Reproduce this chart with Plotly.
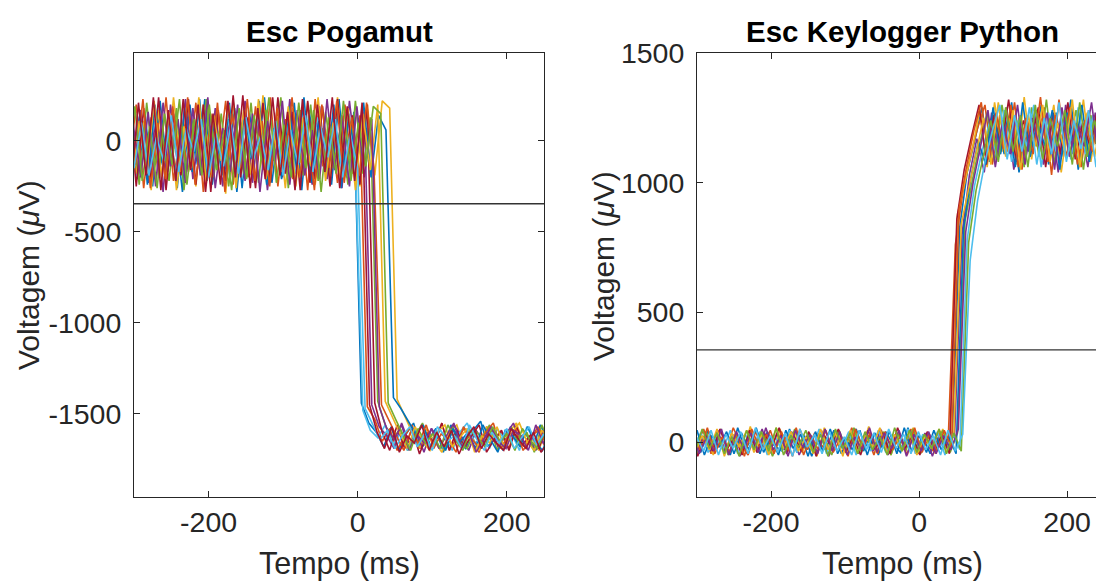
import numpy as np
import plotly.graph_objects as go

# ---------------- data ----------------
# sample grid (ms) shared by all trials; each trial has its own alignment jitter (ms)
time_grid = np.arange(-310, 251, 10)

matlab_colors = ['#0072BD', '#D95319', '#EDB120', '#7E2F8E', '#77AC30', '#4DBEEE', '#A2142F']

left_title = "Esc Pogamut"
right_title = "Esc Keylogger Python"
x_label = "Tempo (ms)"
y_label = "Voltagem (<i>μ</i>V)"
x_ticks = [-200, 0, 200]
x_tick_text = ['-200', '0', '200']
left_y_ticks = [-1500, -1000, -500, 0]
left_y_tick_text = ['-1500', '-1000', '-500', '0']
right_y_ticks = [0, 500, 1000, 1500]
right_y_tick_text = ['0', '500', '1000', '1500']
left_threshold = -345
right_threshold = 355

left_jitter = [5, 3, 3, 9, 7, 7, 3, 8, 2, 7, 9, 1, 0, 6]
right_jitter = [5, 9, 2, 8, 2, 5, 1, 0, 4, 7, 3, 7, 9]

# ---- Esc Pogamut trials (µV) ----
left_trial_01 = [190, -210, 140, -250, 220, -170, 90, -280, 200, -130,
                 230, -240, 60, -200, 180, -260, 150, -110, 240, -230,
                 110, -190, 210, -270, 170, -150, 80, -240, 230, -200,
                 160,
                 -1440, -1550, -1600, -1680, -1570, -1700, -1610, -1550, -1690, -1640,
                 -1580, -1710, -1560, -1650, -1690, -1590, -1540, -1680, -1620, -1700,
                 -1570, -1650, -1600, -1690, -1560, -1640]
left_trial_02 = [-150, 200, -260, 130, -190, 240, -220, 70, -170, 210,
                 -280, 150, -120, 220, -240, 100, -200, 190, -160, 240,
                 -250, 120, -210, 170, -270, 230, -140, 90, -230, 200,
                 -180, 140,
                 -1460, -1530, -1650, -1580, -1700, -1620, -1560, -1690, -1600, -1670,
                 -1550, -1700, -1630, -1580, -1660, -1710, -1570, -1640, -1600, -1690,
                 -1560, -1680, -1620, -1590, -1700]
left_trial_03 = [230, -180, 110, -270, 170, -220, 240, -140, 60, -250,
                 200, -200, 150, -290, 220, -160, 90, -230, 250, -190,
                 130, -260, 180, -120, 210, -240, 70, -210, 240, -170,
                 140, -250, 200, -190, 220, 180,
                 -1420, -1510, -1600, -1690, -1580, -1650, -1710, -1600, -1560, -1680,
                 -1620, -1700, -1570, -1640, -1690, -1600, -1550, -1670, -1630, -1700,
                 -1580]
left_trial_04 = [-60, 170, -230, 120, -280, 200, -150, 230, -210, 80,
                 -190, 180, -250, 140, -120, 220, -230, 160, -270, 60,
                 -200, 230, -170, 110, -240, 190, -210, 150, -260, 220,
                 -130, 170,
                 -1450, -1570, -1620, -1690, -1550, -1660, -1600, -1710, -1580, -1640,
                 -1690, -1560, -1620, -1700, -1590, -1650, -1570, -1690, -1610, -1550,
                 -1680, -1630, -1700, -1590, -1660]
left_trial_05 = [140, -240, 210, -160, 60, -220, 180, -270, 120, -130,
                 230, -200, 150, -250, 90, -180, 210, -230, 170, -110,
                 240, -260, 100, -190, 200, -220, 160, -150, 70, -240,
                 220, -180, 130,
                 -1430, -1560, -1640, -1580, -1700, -1620, -1550, -1680, -1610, -1700,
                 -1570, -1650, -1690, -1590, -1630, -1560, -1700, -1620, -1580, -1670,
                 -1600, -1710, -1560, -1650]
left_trial_06 = [-80, 60, -160, 110, -120, 30, -190, 90, -60, 150,
                 -170, 40, -110, 120, -200, 70, -90, 140, -150, 20,
                 -130, 100, -180, 60, -70, 130, -160, 50, -120, 110,
                 -140,
                 -1480, -1590, -1630, -1560, -1670, -1610, -1700, -1580, -1640, -1690,
                 -1570, -1620, -1700, -1600, -1550, -1660, -1630, -1690, -1580, -1640,
                 -1610, -1700, -1570, -1650, -1620, -1680]
left_trial_07 = [220, -250, 180, -210, 240, -270, 150, -190, 230, -240,
                 200, -280, 170, -220, 250, -200, 130, -260, 210, -230,
                 240, -180, 160, -270, 220, -210, 190, -250, 230, -190,
                 140, -240, 200,
                 -1440, -1600, -1700, -1560, -1690, -1580, -1720, -1610, -1660, -1550,
                 -1700, -1590, -1680, -1620, -1560, -1710, -1640, -1590, -1700, -1570,
                 -1660, -1610, -1690, -1580]
left_trial_08 = [-200, 150, -240, 200, -130, 90, -260, 180, -170, 230,
                 -220, 120, -190, 210, -280, 160, -100, 220, -240, 70,
                 -210, 190, -150, 240, -230, 110, -180, 200, -260, 150,
                 -120, 210, -200, 140, 60,
                 -1410, -1470, -1540, -1610, -1560, -1680, -1620, -1700, -1580, -1650,
                 -1600, -1690, -1560, -1640, -1710, -1590, -1620, -1680, -1570, -1650,
                 -1700, -1600]
left_trial_09 = [170, -130, 230, -260, 100, -210, 190, -170, 240, -240,
                 60, -190, 210, -280, 150, -140, 230, -220, 110, -250,
                 180, -160, 240, -200, 90, -270, 200, -150, 220, -230,
                 130, -190, 210, -160,
                 -1450, -1540, -1620, -1700, -1590, -1660, -1560, -1690, -1610, -1640,
                 -1710, -1570, -1630, -1680, -1600, -1550, -1690, -1620, -1580, -1700,
                 -1640, -1570, -1660]
left_trial_10 = [-240, 110, -180, 220, -200, 160, -270, 80, -150, 240,
                 -230, 140, -110, 200, -260, 170, -190, 230, -210, 50,
                 -170, 190, -250, 130, -140, 240, -220, 100, -200, 180,
                 -270, 150, -160, 200,
                 -1430, -1520, -1610, -1690, -1570, -1650, -1700, -1600, -1560, -1680,
                 -1630, -1580, -1710, -1620, -1660, -1570, -1690, -1600, -1550, -1650,
                 -1700, -1590, -1640]
left_trial_11 = [90, -200, 160, -250, 210, -140, 120, -230, 180, -190,
                 240, -260, 70, -170, 200, -220, 150, -280, 110, -130,
                 220, -240, 170, -190, 60, -210, 230, -160, 140, -250,
                 190, -200, 120,
                 -1460, -1580, -1640, -1560, -1700, -1610, -1660, -1580, -1690, -1620,
                 -1550, -1680, -1600, -1710, -1640, -1570, -1650, -1690, -1590, -1620,
                 -1700, -1560, -1660, -1610]
left_trial_12 = [-170, 190, -220, 80, -260, 150, -130, 230, -240, 120,
                 -190, 200, -160, 60, -270, 180, -210, 140, -110, 240,
                 -230, 90, -200, 210, -150, 170, -280, 130, -180, 220,
                 -220, 100, -140, 190, 150,
                 -1440, -1530, -1620, -1700, -1580, -1660, -1610, -1690, -1560, -1640,
                 -1700, -1590, -1630, -1680, -1570, -1650, -1610, -1700, -1580, -1640,
                 -1690, -1600]
left_trial_13 = [50, -150, 100, -190, 20, -110, 140, -170, 70, -60,
                 120, -200, 40, -140, 90, -180, 130, -100, 30, -160,
                 110, -190, 60, -130, 140, -170, 80, -90, 120, -200,
                 40, -150,
                 -1470, -1560, -1640, -1590, -1690, -1620, -1570, -1680, -1610, -1700,
                 -1580, -1650, -1620, -1690, -1560, -1640, -1700, -1600, -1660, -1580,
                 -1690, -1630, -1570, -1670, -1610]
left_trial_14 = [-250, 210, -190, 240, -270, 170, -220, 230, -160, 200,
                 -280, 150, -240, 220, -200, 250, -260, 180, -210, 240,
                 -190, 160, -270, 230, -230, 200, -170, 240, -260, 190,
                 -220, 210,
                 -1450, -1600, -1690, -1570, -1710, -1620, -1660, -1560, -1700, -1600,
                 -1680, -1590, -1720, -1630, -1570, -1690, -1610, -1660, -1700, -1580,
                 -1640, -1690, -1600, -1710, -1650]

# ---- Esc Keylogger Python trials (µV) ----
right_trial_01 = [30, -40, 45, -25, 10, -50, 55, -30, 20, -45,
                  40, -15, -35, 50, -40, 25, -55, 35, -20, 45,
                  -45, 15, 50, -35, 30, -50, 40, -10, -40, 55,
                  -30, 20, -45, 35, -25, 40,
                  830, 1040, 1160, 1290, 1080, 1250, 1110, 1310, 1040, 1230,
                  1130, 1300, 1070, 1270, 1100, 1320, 1050, 1240, 1150, 1290,
                  1090]
right_trial_02 = [-20, 50, -45, 30, -35, 55, -10, -50, 40, -25,
                  45, -40, 20, -55, 50, -30, 35, -15, -45, 40,
                  -35, 55, -20, 30, -50, 45, -40, 10, -30, 50,
                  -45, 25, -35, 40, -20,
                  760, 960, 1100, 1210, 1300, 1070, 1260, 1120, 1310, 1050,
                  1240, 1140, 1290, 1030, 1320, 1100, 1230, 1060, 1280, 1150,
                  1300, 1090]
right_trial_03 = [55, -30, 25, -50, 45, -20, 35, -45, 60, -35,
                  15, -50, 50, -25, 40, -40, 30, -55, 55, -15,
                  20, -45, 45, -30, 60, -40, 25, -50, 40, -20,
                  55, -35, 30, -45, 50, -25,
                  880, 1000, 1130, 1280, 1060, 1310, 1120, 1250, 1070, 1330,
                  1090, 1270, 1140, 1300, 1040, 1240, 1110, 1320, 1080, 1260,
                  1130]
right_trial_04 = [-50, 20, -35, 45, -40, 30, -55, 15, -25, 50,
                  -45, 35, -30, 40, -50, 10, -40, 45, -55, 25,
                  -20, 40, -45, 30, -35, 50, -50, 20, -30, 45,
                  -40, 35, -55, 25, -25, 30,
                  800, 1030, 1170, 1040, 1270, 1100, 1290, 1050, 1230, 1120,
                  1280, 1070, 1250, 1040, 1300, 1110, 1220, 1060, 1270, 1090,
                  1240]
right_trial_05 = [15, -45, 40, -30, 50, -50, 25, -20, 45, -40,
                  30, -55, 10, -35, 50, -25, 35, -45, 20, -50,
                  45, -30, 55, -40, 25, -15, 40, -50, 30, -35,
                  50, -45, 20, -30, 45, -40, 35,
                  850, 1010, 1150, 1270, 1080, 1300, 1120, 1240, 1060, 1290,
                  1100, 1320, 1070, 1250, 1130, 1280, 1050, 1260, 1110, 1300]
right_trial_06 = [-25, 35, -40, 20, -30, 45, -45, 30, -20, 40,
                  -50, 25, -35, 45, -40, 15, -30, 50, -45, 30,
                  -25, 40, -50, 20, -35, 45, -40, 25, -30, 50,
                  -45, 30, -20, 40, -50, 35, -30,
                  780, 990, 1120, 1230, 1100, 1280, 1080, 1250, 1140, 1300,
                  1060, 1270, 1120, 1240, 1090, 1290, 1110, 1260, 1070, 1280]
right_trial_07 = [40, -55, 30, -35, 50, -25, 20, -50, 45, -40,
                  35, -20, 55, -45, 25, -35, 40, -55, 30, -15,
                  50, -40, 20, -50, 45, -30, 35, -45, 55, -25,
                  25, -50, 40, -35, 30, -45,
                  860, 1050, 1180, 1300, 1070, 1260, 1130, 1320, 1080, 1240,
                  1150, 1290, 1060, 1270, 1110, 1310, 1090, 1230, 1140, 1280,
                  1070]
right_trial_08 = [-35, 45, -50, 25, -20, 40, -45, 35, -30, 55,
                  -40, 20, -50, 45, -25, 30, -55, 40, -35, 50,
                  -45, 15, -30, 45, -50, 35, -20, 40, -45, 55,
                  -35, 25, -40, 45, -30, 20, -45,
                  820, 1020, 1160, 1070, 1290, 1110, 1250, 1060, 1310, 1100,
                  1240, 1140, 1280, 1050, 1270, 1120, 1300, 1080, 1230, 1150]
right_trial_09 = [45, -30, 55, -45, 20, -40, 35, -55, 50, -20,
                  30, -45, 40, -35, 55, -50, 25, -30, 45, -40,
                  15, -55, 50, -25, 35, -45, 40, -30, 20, -50,
                  55, -40, 30, -35, 45, -20,
                  900, 1060, 1200, 1310, 1090, 1270, 1130, 1300, 1060, 1250,
                  1110, 1330, 1080, 1260, 1150, 1290, 1070, 1240, 1120, 1310,
                  1100]
right_trial_10 = [-45, 25, -30, 50, -55, 35, -20, 45, -40, 30,
                  -50, 55, -25, 40, -35, 20, -45, 50, -30, 35,
                  -55, 45, -40, 25, -20, 55, -45, 30, -35, 40,
                  -50, 20, -25, 50, -40, 35,
                  840, 980, 1120, 1250, 1070, 1310, 1100, 1280, 1050, 1260,
                  1140, 1300, 1080, 1230, 1120, 1320, 1060, 1270, 1100, 1250,
                  1130]
right_trial_11 = [30, -45, 20, -35, 50, -50, 40, -25, 35, -40,
                  55, -30, 25, -55, 45, -20, 30, -45, 50, -35,
                  40, -50, 20, -30, 55, -40, 35, -25, 45, -55,
                  30, -35, 40, -45, 25, -30, 50,
                  810, 1000, 1140, 1280, 1060, 1240, 1110, 1300, 1070, 1250,
                  1130, 1270, 1050, 1290, 1100, 1230, 1140, 1310, 1080, 1260]
right_trial_12 = [-40, 50, -25, 35, -45, 20, -55, 45, -30, 40,
                  -35, 55, -50, 25, -20, 45, -40, 30, -55, 50,
                  -25, 35, -45, 40, -30, 20, -50, 55, -35, 45,
                  -40, 30, -25, 50, -45, 35, -35,
                  770, 970, 1110, 1240, 1080, 1290, 1120, 1260, 1060, 1300,
                  1090, 1250, 1140, 1280, 1070, 1310, 1100, 1240, 1130, 1270]
right_trial_13 = [20, -35, 45, -50, 30, -25, 40, -45, 55, -30,
                  25, -40, 35, -55, 50, -20, 30, -45, 40, -35,
                  20, -50, 45, -30, 35, -40, 50, -25, 30, -45,
                  40, -30, 25, -50, 45, -35, 30,
                  700, 930, 1080, 1200, 1300, 1090, 1260, 1120, 1290, 1070,
                  1250, 1110, 1310, 1080, 1240, 1130, 1280, 1060, 1270, 1120]

left_trials = [left_trial_01, left_trial_02, left_trial_03, left_trial_04, left_trial_05,
               left_trial_06, left_trial_07, left_trial_08, left_trial_09, left_trial_10,
               left_trial_11, left_trial_12, left_trial_13, left_trial_14]
right_trials = [right_trial_01, right_trial_02, right_trial_03, right_trial_04, right_trial_05,
                right_trial_06, right_trial_07, right_trial_08, right_trial_09, right_trial_10,
                right_trial_11, right_trial_12, right_trial_13]

for tr in left_trials + right_trials:
    assert len(tr) == len(time_grid), len(tr)

# ---------------- figure ----------------
W, H = 1096, 583


def px_x(x):
    return x / W


def px_y(y):
    return 1 - y / H


fig = go.Figure()

for i, (tr, jit) in enumerate(zip(left_trials, left_jitter)):
    fig.add_trace(go.Scatter(x=time_grid + jit, y=tr, mode='lines',
                             line=dict(color=matlab_colors[i % 7], width=1.6),
                             hoverinfo='skip', showlegend=False, xaxis='x', yaxis='y'))
for i, (tr, jit) in enumerate(zip(right_trials, right_jitter)):
    fig.add_trace(go.Scatter(x=time_grid + jit, y=tr, mode='lines',
                             line=dict(color=matlab_colors[i % 7], width=1.6),
                             hoverinfo='skip', showlegend=False, xaxis='x2', yaxis='y2'))

axis_color = '#262626'
FONT = 'Liberation Sans, Arial, sans-serif'
tick_font = dict(size=28.5, color=axis_color, family=FONT)
common = dict(showgrid=False, zeroline=False, showline=True, linecolor=axis_color,
              linewidth=1, ticks='inside', ticklen=6, tickwidth=1, tickcolor=axis_color,
              tickfont=tick_font, automargin=False)

ydom = [px_y(497), px_y(53)]
fig.update_layout(
    width=W, height=H,
    margin=dict(l=0, r=0, t=0, b=0, pad=0),
    paper_bgcolor='white', plot_bgcolor='white',
    showlegend=False,
    font=dict(family=FONT, color=axis_color),
    xaxis=dict(domain=[px_x(134), px_x(544)], range=[-300, 250],
               tickvals=x_ticks, ticktext=x_tick_text,
               mirror='ticks', anchor='y', **common),
    yaxis=dict(domain=ydom, range=[-1956, 483],
               tickvals=left_y_ticks, ticktext=left_y_tick_text,
               mirror='ticks', anchor='x', ticklabelstandoff=6, **common),
    xaxis2=dict(domain=[px_x(697), 1.0], range=[-300, 239],
                tickvals=x_ticks, ticktext=x_tick_text,
                mirror='ticks', anchor='y2', **common),
    yaxis2=dict(domain=ydom, range=[-212, 1500],
                tickvals=right_y_ticks, ticktext=right_y_tick_text,
                mirror=False, anchor='x2', ticklabelstandoff=6, **common),
)

fig.add_shape(type='line', xref='x domain', yref='y', x0=0, x1=1,
              y0=left_threshold, y1=left_threshold,
              line=dict(color='#333333', width=1.3))
fig.add_shape(type='line', xref='x2 domain', yref='y2', x0=0, x1=1,
              y0=right_threshold, y1=right_threshold,
              line=dict(color='#333333', width=1.3))


def ann(text, xpx, ypx, size, color='#262626', angle=0):
    fig.add_annotation(text=text, x=px_x(xpx), y=px_y(ypx), xref='paper', yref='paper',
                       showarrow=False, xanchor='center', yanchor='middle',
                       textangle=angle, font=dict(size=size, color=color, family=FONT))


ann('<b>' + left_title + '</b>', 339, 31, 29.5, color='black')
ann('<b>' + right_title + '</b>', 902, 31, 29.5, color='black')
ann(x_label, 339, 563, 30.5)
ann(x_label, 902, 563, 30.5)
ann(y_label, 28, 275, 30, angle=-90)
ann(y_label, 603, 266, 30, angle=-90)

fig.write_html("out.html",
               config={'displayModeBar': False, 'staticPlot': True},
               post_script="document.body.style.margin='0px';"
                           "document.body.style.overflow='hidden';")
